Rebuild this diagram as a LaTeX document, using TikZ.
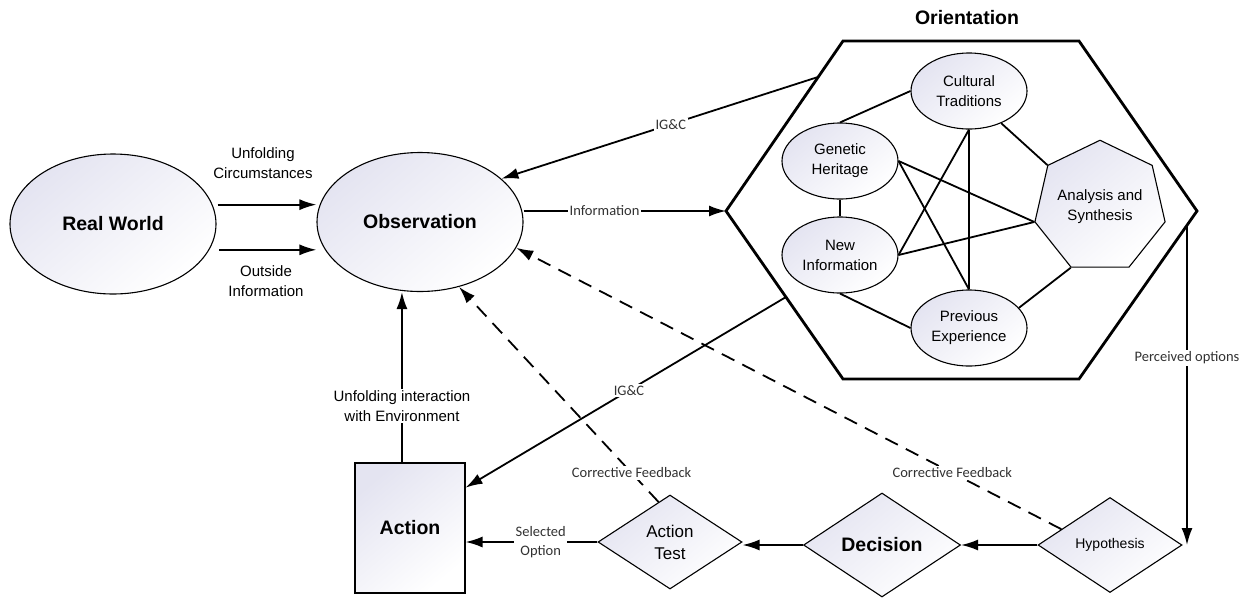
\documentclass[tikz,border=0pt]{standalone}
\usepackage{fontspec}
\setmainfont{Liberation Sans}
\newfontfamily\calfont{Carlito}
\usetikzlibrary{shapes.geometric,arrows.meta,calc}
\definecolor{lav}{RGB}{228,228,241}
\definecolor{labelgray}{RGB}{50,50,50}
\newcommand\hdfont{\bfseries\fontsize{19.5}{23}\selectfont}
\newcommand\txfont{\fontsize{15}{20}\selectfont}
\newcommand\atfont{\fontsize{17}{22}\selectfont}
\newcommand\hyfont{\fontsize{14}{18}\selectfont}
\newcommand\lbfont{\calfont\fontsize{14.5}{19}\selectfont}
\begin{document}
\begin{tikzpicture}[x=1pt,y=-1pt,
  soft/.style={top color=lav, bottom color=white, shading angle=40},
  oval/.style={ellipse, draw, line width=1.1pt, soft, inner sep=0pt, align=center},
  inneroval/.style={oval, minimum width=116pt, minimum height=76pt, font=\txfont},
  boxnode/.style={rectangle, draw, line width=1.1pt, soft, inner sep=0pt, font=\hdfont},
  dia/.style={diamond, draw, line width=1.1pt, soft, inner sep=0pt, aspect=1.5, align=center},
  arr/.style={line width=1.8pt, -{Latex[length=17pt,width=11pt]}},
  dasharr/.style={arr, dash pattern=on 14pt off 9pt},
  link/.style={line width=1.8pt},
  hexline/.style={line width=2.8pt},
  lbl/.style={fill=white, inner sep=1.5pt, font=\lbfont, text=labelgray, align=center},
  captxt/.style={font=\txfont, align=center}
]
\useasboundingbox (0,0) rectangle (1250,598);

% --- outer nodes ---
\node[oval, minimum width=206pt, minimum height=140pt, font=\hdfont] (RW) at (113,224) {Real World};
\node[oval, minimum width=206pt, minimum height=139pt, font=\hdfont] (OBS) at (420,222) {Observation};
\node[boxnode, minimum width=110pt, minimum height=130pt] (ACT) at (410,528) {Action};
\node[dia, minimum width=144pt, minimum height=94pt, font=\atfont] (AT) at (670,542) {Action\\Test};
\node[dia, minimum width=157pt, minimum height=104pt, font=\hdfont] (DEC) at (882,545) {Decision};
\node[dia, minimum width=144pt, minimum height=95pt, font=\hyfont] (HYP) at (1110,545) {Hypothesis};

% --- orientation hexagon ---
\coordinate (hexL) at (726,211);
\coordinate (hexTL) at (843,41);
\coordinate (hexTR) at (1079,41);
\coordinate (hexR) at (1197,211);
\coordinate (hexBR) at (1079,379);
\coordinate (hexBL) at (843,379);
\draw[hexline] (hexL) -- (hexTL) -- (hexTR) -- (hexR) -- (hexBR) -- (hexBL) -- cycle;
\node[font=\hdfont] (ORI) at (967,18) {Orientation};

\coordinate (igcUp) at (818,77);
\coordinate (igcLow) at (786,297);
\coordinate (perc) at (1187,225);

% --- inner nodes ---
\node[inneroval] (CT) at (969,91) {Cultural\\Traditions};
\node[inneroval] (GH) at (840,161) {Genetic\\Heritage};
\node[inneroval] (NI) at (840,255) {New\\Information};
\node[inneroval] (PE) at (969,328) {Previous\\Experience};
\node[regular polygon, regular polygon sides=7, minimum size=126pt, inner sep=0pt,
      draw, line width=1.1pt, soft, font=\txfont, align=center] (AS) at (1100,207) {Analysis and\\Synthesis};

% --- inner links ---
\draw[link] (GH.north) -- (CT.west);
\draw[link] (GH.south) -- (NI.north);
\draw[link] (CT.south) -- (PE.north);
\draw[link] (CT.-45) -- (AS.corner 2);
\draw[link] (GH.east) -- (AS.corner 3);
\draw[link] (GH.east) -- (PE.north);
\draw[link] (NI.east) -- (CT.south);
\draw[link] (NI.east) -- (AS.corner 3);
\draw[link] (NI.south) -- (PE.west);
\draw[link] (PE.22) -- (AS.corner 4);

% --- connectors ---
\draw[arr, shorten <=5pt] (RW.11) -- (RW.11 -| OBS.west);
\draw[arr, shorten <=10pt] (RW.-15) -- (RW.-15 -| OBS.west);
\node[captxt] (UC) at (263,163) {Unfolding\\Circumstances};
\node[captxt] (OI) at (266,281) {Outside\\Information};

\draw[arr] (hexL -| OBS.east) -- node[lbl, pos=0.4] {Information} (hexL);
\draw[arr] (igcUp) -- node[lbl, pos=0.465] {IG\&C} (OBS.28);
\draw[arr] (igcLow) -- node[lbl, pos=0.49] {IG\&C} (ACT.36);
\draw[arr] (ACT.97) -- node[captxt, fill=white, inner sep=1.5pt, pos=0.33] {Unfolding interaction\\with Environment} (ACT.97 |- OBS.south);
\draw[dasharr] (AT.106) -- node[lbl, pos=0.135] {Corrective Feedback} (OBS.-59);
\draw[dasharr] (HYP.162) -- node[lbl, pos=0.2] {Corrective Feedback} (OBS.-15);
\draw[arr] (perc) -- node[lbl, pos=0.416] {Perceived options} (perc |- HYP.east);
\draw[arr] (HYP.west) -- (HYP.west -| DEC.east);
\draw[arr] (DEC.west) -- (DEC.west -| AT.east);
\draw[arr] (AT.west) -- node[lbl, pos=0.43] {Selected\\Option} (AT.west -| ACT.east);
\end{tikzpicture}
\end{document}
